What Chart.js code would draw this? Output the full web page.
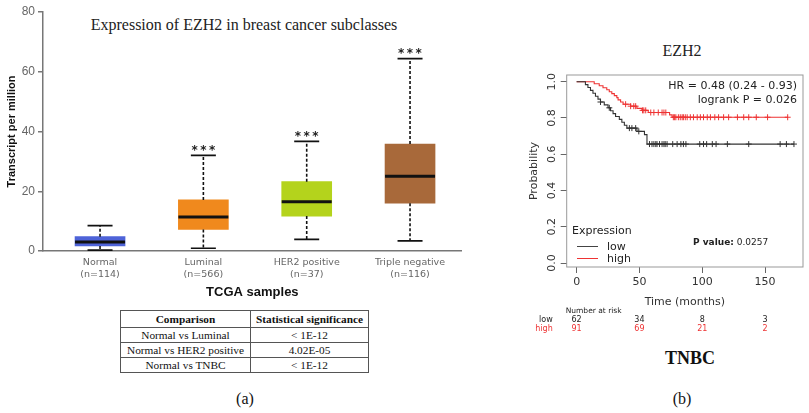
<!DOCTYPE html>
<html lang="en">
<head>
<meta charset="UTF-8">
<title>EZH2 expression and survival</title>
<script src="https://cdn.jsdelivr.net/npm/chart.js@4.4.0/dist/chart.umd.min.js"></script>
<style>
  * { margin:0; padding:0; box-sizing:border-box; }
  body { width:809px; height:413px; background:#fff; position:relative; overflow:hidden; font-family:'Liberation Serif',serif; color:#111; }
  .t { position:absolute; white-space:nowrap; transform:translate(-50%,-50%); }
  .l { position:absolute; white-space:nowrap; transform:translateY(-50%); }
  #boxChart { position:absolute; left:0; top:0; }
  #kmChart { position:absolute; left:510px; top:30px; }

  /* table under the box plot */
  .stats { position:absolute; left:120px; top:310px; width:249px; border-collapse:collapse; font-family:'Liberation Serif',serif; font-size:11.3px; color:#111; }
  .stats th, .stats td { border:1px solid #555; text-align:center; font-weight:normal; height:15px; line-height:13px; padding:0; }
  .stats th { font-weight:bold; height:17px; }

  .km { font-family:'DejaVu Sans',sans-serif; color:#222; }
  .leg-line { position:absolute; width:21px; height:0; }
</style>
</head>
<body>

<div class="t" style="left:244px;top:25px;font-size:16px;color:#222;">Expression of EZH2 in breast cancer subclasses</div>
<canvas id="boxChart" width="470" height="300"></canvas>

<table class="stats">
  <tr><th style="width:130px">Comparison</th><th>Statistical significance</th></tr>
  <tr><td>Normal vs Luminal</td><td>&lt; 1E-12</td></tr>
  <tr><td>Normal vs HER2 positive</td><td>4.02E-05</td></tr>
  <tr><td>Normal vs TNBC</td><td>&lt; 1E-12</td></tr>
</table>
<div class="t" style="left:245px;top:399px;font-size:16px;">(a)</div>

<div class="t" style="left:682px;top:51px;font-size:16px;color:#222;">EZH2</div>
<canvas id="kmChart" width="299" height="310"></canvas>

<div class="l km" style="right:12px;top:85px;font-size:11px;">HR = 0.48 (0.24 - 0.93)</div>
<div class="l km" style="right:12px;top:99px;font-size:11px;">logrank P = 0.026</div>
<div class="l km" style="left:572px;top:230px;font-size:11px;">Expression</div>
<div class="leg-line" style="left:577px;top:246px;border-top:1px solid #444;"></div>
<div class="l km" style="left:607px;top:246px;font-size:11px;">low</div>
<div class="leg-line" style="left:577px;top:258px;border-top:1px solid #e33;"></div>
<div class="l km" style="left:607px;top:258px;font-size:11px;">high</div>
<div class="l km" style="left:693px;top:242px;font-size:9px;"><b>P value:</b> 0.0257</div>

<div class="t" style="left:690px;top:358px;font-size:18px;font-weight:bold;">TNBC</div>
<div class="t" style="left:682px;top:399px;font-size:16px;">(b)</div>

<script>
// ---- box plot (TCGA samples) ----
const groups = ['Normal', 'Luminal', 'HER2 positive', 'Triple negative'];
const sampleN = ['(n=114)', '(n=566)', '(n=37)', '(n=116)'];
const whiskerLow = [0.3, 0.9, 3.9, 3.4];
const q1 = [1.7, 7.2, 11.7, 16.0];
const median = [3.0, 11.4, 16.5, 25.0];
const q3 = [4.8, 17.1, 23.2, 35.8];
const whiskerHigh = [8.5, 32.0, 36.7, 64.4];
const signif = ['', '***', '***', '***'];
const boxYTicks = [0, 20, 40, 60, 80];
const boxColors = ['#4e63d8', '#f0891d', '#b4d31c', '#a8693a'];

// ---- Kaplan-Meier (TNBC) ----
const lowTime = [0, 7, 9, 11, 13, 15, 17, 19, 22, 25, 27, 29, 31, 34, 36, 38, 40, 48, 54, 56];
const lowSurv = [1, .984, .968, .952, .936, .920, .904, .888, .872, .856, .840, .824, .808, .792, .776, .760, .744, .726, .708, .656];
const lowCensor = [19, 26, 42, 44, 47, 49.5, 58, 60, 61.5, 63, 64, 66, 68, 69.5, 70.5, 72, 76.5, 80, 83, 85, 87, 98, 101, 103.5, 108, 111, 120, 137, 162, 167, 173];
const highTime = [0, 14, 18, 21, 24, 26, 28, 30, 32, 33, 35, 37, 43, 48, 52, 57, 74, 76];
const highSurv = [1, .989, .978, .967, .956, .945, .934, .923, .912, .900, .888, .876, .865, .853, .842, .830, .817, .804];
const highCensor = [39, 43, 45.5, 47, 52.5, 53.5, 55, 59, 61.5, 65, 68, 69.5, 71, 77, 78, 79, 81, 82.5, 84, 85, 86.5, 88, 90.5, 93, 96, 98.5, 101, 104, 106.5, 110, 113, 117, 121, 128, 133, 137, 143, 152, 168];
const kmXTicks = [0, 50, 100, 150];
const kmYTicks = [0, 0.2, 0.4, 0.6, 0.8, 1.0];
const riskTimes = [0, 50, 100, 150];
const riskLow = [62, 34, 8, 3];
const riskHigh = [91, 69, 21, 2];

// whiskers, medians, caps and stars on top of the bars
const boxParts = {
  id: 'boxParts',
  afterDatasetsDraw(chart) {
    const { ctx, scales: { x, y } } = chart;
    ctx.save();
    groups.forEach((g, i) => {
      const cx = x.getPixelForValue(i);
      ctx.strokeStyle = '#111';
      ctx.lineWidth = 1.6;
      ctx.setLineDash([3, 2]);
      ctx.beginPath();
      ctx.moveTo(cx, y.getPixelForValue(q3[i]));
      ctx.lineTo(cx, y.getPixelForValue(whiskerHigh[i]));
      ctx.moveTo(cx, y.getPixelForValue(q1[i]));
      ctx.lineTo(cx, y.getPixelForValue(whiskerLow[i]));
      ctx.stroke();
      ctx.setLineDash([]);
      ctx.beginPath();
      [whiskerHigh[i], whiskerLow[i]].forEach(v => {
        const py = y.getPixelForValue(v);
        ctx.moveTo(cx - 12.5, py);
        ctx.lineTo(cx + 12.5, py);
      });
      ctx.stroke();
      ctx.lineWidth = 3;
      ctx.beginPath();
      const my = y.getPixelForValue(median[i]);
      ctx.moveTo(cx - 25, my);
      ctx.lineTo(cx + 25, my);
      ctx.stroke();
      if (signif[i]) {
        ctx.fillStyle = '#222';
        ctx.font = 'bold 12px "DejaVu Sans"';
        ctx.letterSpacing = '2.5px';
        ctx.textAlign = 'center';
        ctx.textBaseline = 'alphabetic';
        ctx.fillText(signif[i], cx + 1.2, y.getPixelForValue(whiskerHigh[i]) - 1.5);
        ctx.letterSpacing = '0px';
      }
    });
    ctx.restore();
  }
};

new Chart(document.getElementById('boxChart'), {
  type: 'bar',
  data: {
    datasets: [{
      data: groups.map((g, i) => ({ x: i, y: [q1[i], q3[i]] })),
      backgroundColor: boxColors,
      borderWidth: 0,
      barThickness: 50
    }]
  },
  options: {
    responsive: false,
    animation: false,
    layout: { padding: { left: 0, top: 12, right: 8.3, bottom: 0 } },
    plugins: { legend: { display: false }, tooltip: { enabled: false } },
    scales: {
      x: {
        type: 'linear', min: -0.552, max: 3.5, offset: false,
        afterBuildTicks: s => { s.ticks = groups.map((g, i) => ({ value: i })); },
        afterFit: s => { s.height = 49; },
        ticks: { callback: v => [groups[v], sampleN[v]], font: { family: 'DejaVu Sans', size: 9.5 }, color: '#666', padding: 6, maxRotation: 0, autoSkip: false },
        grid: { display: false, drawTicks: false, offset: false },
        border: { color: '#777', width: 1.5 },
        title: { display: true, text: 'TCGA samples', font: { family: 'Liberation Sans', size: 13, weight: 'bold' }, color: '#111', padding: 0 }
      },
      y: {
        min: 0, max: 80,
        afterBuildTicks: s => { s.ticks = boxYTicks.map(v => ({ value: v })); },
        afterFit: s => { s.width = 43; },
        ticks: { font: { family: 'Liberation Sans', size: 12 }, color: '#666', padding: 3 },
        grid: { drawOnChartArea: false, drawTicks: true, tickLength: 5, color: '#777', lineWidth: 1.5 },
        border: { color: '#777', width: 1.5 },
        title: { display: true, text: 'Transcript per million', font: { family: 'Liberation Sans', size: 11, weight: 'bold' }, color: '#111', padding: { top: 5, bottom: 0 } }
      }
    }
  },
  plugins: [boxParts]
});

function survAt(times, surv, t) {
  let s = 1;
  times.forEach((tt, i) => { if (tt <= t) s = surv[i]; });
  return s;
}
function stepData(times, surv, censor) {
  const pts = times.map((t, i) => ({ x: t, y: surv[i] }));
  const end = censor[censor.length - 1];
  pts.push({ x: end, y: surv[surv.length - 1] });
  return pts;
}
const censorData = (times, surv, censor) => censor.map(t => ({ x: t, y: survAt(times, surv, t) }));

// frame, rotated y labels and number-at-risk rows
const kmExtras = {
  id: 'kmExtras',
  afterDraw(chart) {
    const { ctx, chartArea: a, scales: { x, y } } = chart;
    ctx.save();
    ctx.strokeStyle = '#999';
    ctx.lineWidth = 1;
    ctx.strokeRect(a.left, a.top, a.right - a.left, a.bottom - a.top);

    ctx.fillStyle = '#333';
    ctx.font = '11px "DejaVu Sans"';
    ctx.textAlign = 'center';
    ctx.textBaseline = 'middle';
    kmYTicks.forEach(v => {
      ctx.save();
      ctx.translate(a.left - 15, y.getPixelForValue(v));
      ctx.rotate(-Math.PI / 2);
      ctx.fillText(v.toFixed(1), 0, 0);
      ctx.restore();
    });

    ctx.font = '7.5px "DejaVu Sans"';
    ctx.textAlign = 'left';
    ctx.fillStyle = '#222';
    ctx.fillText('Number at risk', a.left - 1, 281);
    [['low', riskLow, '#222', 290], ['high', riskHigh, '#e33', 299]].forEach(([lab, vals, col, py]) => {
      ctx.fillStyle = col;
      ctx.font = '8px "DejaVu Sans"';
      ctx.textAlign = 'right';
      ctx.fillText(lab, a.left - 14, py);
      ctx.textAlign = 'center';
      vals.forEach((v, i) => ctx.fillText(String(v), x.getPixelForValue(riskTimes[i]), py));
    });
    ctx.restore();
  }
};

new Chart(document.getElementById('kmChart'), {
  type: 'line',
  data: {
    datasets: [
      { data: stepData(lowTime, lowSurv, lowCensor), borderColor: '#333', borderWidth: 1.1, stepped: true, pointRadius: 0 },
      { data: stepData(highTime, highSurv, highCensor), borderColor: '#ee3333', borderWidth: 1.1, stepped: true, pointRadius: 0 },
      { data: censorData(lowTime, lowSurv, lowCensor), showLine: false, pointStyle: 'cross', pointRadius: 3, borderColor: '#333', borderWidth: 1 },
      { data: censorData(highTime, highSurv, highCensor), showLine: false, pointStyle: 'cross', pointRadius: 3, borderColor: '#ee3333', borderWidth: 1 }
    ]
  },
  options: {
    responsive: false,
    animation: false,
    layout: { padding: { left: 0, top: 45, right: 6, bottom: 31 } },
    plugins: { legend: { display: false }, tooltip: { enabled: false } },
    scales: {
      x: {
        type: 'linear', min: -7.9, max: 180.2,
        afterBuildTicks: s => { s.ticks = kmXTicks.map(v => ({ value: v })); },
        afterFit: s => { s.height = 42; },
        ticks: { font: { family: 'DejaVu Sans', size: 11 }, color: '#333', padding: 3, maxRotation: 0 },
        grid: { drawOnChartArea: false, drawTicks: true, tickLength: 6, color: '#666' },
        border: { display: false },
        title: { display: true, text: 'Time (months)', font: { family: 'DejaVu Sans', size: 11 }, color: '#333', padding: 0 }
      },
      y: {
        min: -0.022, max: 1.037,
        afterBuildTicks: s => { s.ticks = kmYTicks.map(v => ({ value: v })); },
        afterFit: s => { s.width = 56.7; },
        ticks: { display: false },
        grid: { drawOnChartArea: false, drawTicks: true, tickLength: 6, color: '#666' },
        border: { display: false },
        title: { display: true, text: 'Probability', font: { family: 'DejaVu Sans', size: 11 }, color: '#333', padding: { top: 18, bottom: 0 } }
      }
    }
  },
  plugins: [kmExtras]
});
</script>
</body>
</html>
